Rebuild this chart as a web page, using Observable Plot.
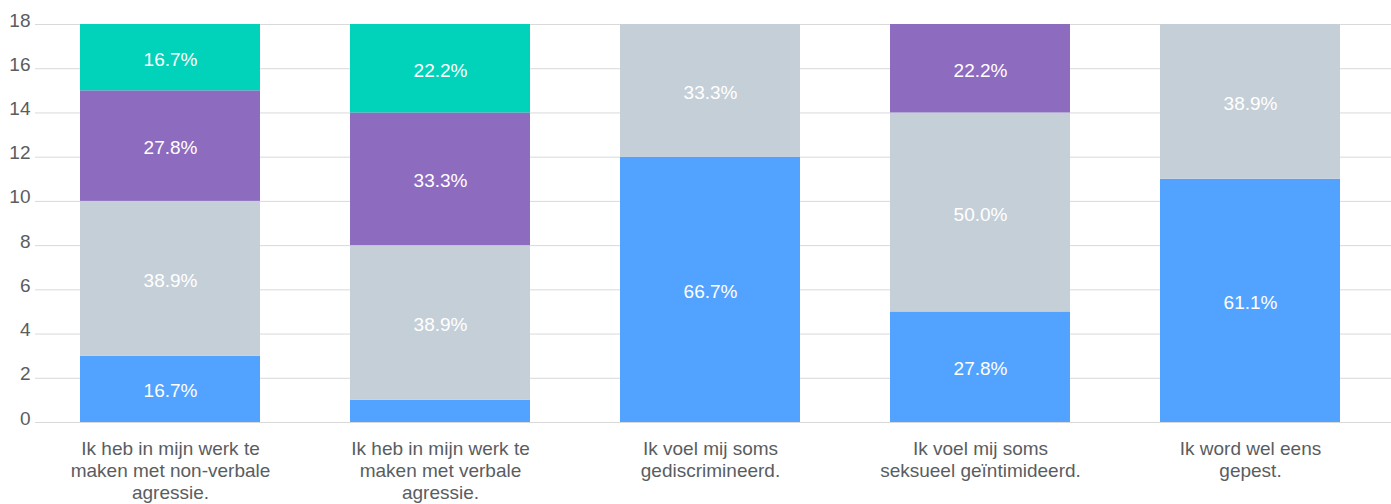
<!DOCTYPE html>
<html>
<head>
<meta charset="utf-8">
<script src="https://cdn.jsdelivr.net/npm/d3@7"></script>
<script src="https://cdn.jsdelivr.net/npm/@observablehq/plot@0.6"></script>
<style>
  body { margin: 0; background: #fff; }
  #chart svg { display: block; }
</style>
</head>
<body>
<div id="chart"></div>
<script>
const categories = [
  "Ik heb in mijn werk te maken met non-verbale agressie.",
  "Ik heb in mijn werk te maken met verbale agressie.",
  "Ik voel mij soms gediscrimineerd.",
  "Ik voel mij soms seksueel geïntimideerd.",
  "Ik word wel eens gepest."
];
const categoryLines = [
  ["Ik heb in mijn werk te", "maken met non-verbale", "agressie."],
  ["Ik heb in mijn werk te", "maken met verbale", "agressie."],
  ["Ik voel mij soms", "gediscrimineerd."],
  ["Ik voel mij soms", "seksueel geïntimideerd."],
  ["Ik word wel eens", "gepest."]
];
const seriesNames = ["Serie 1", "Serie 2", "Serie 3", "Serie 4"];
const seriesColors = ["#52a3ff", "#c5cfd8", "#8d6bbf", "#00d3b9"];
const serie1Values = [3, 1, 12, 5, 11];
const serie2Values = [7, 7, 6, 9, 7];
const serie3Values = [5, 6, 0, 4, 0];
const serie4Values = [3, 4, 0, 0, 0];
const yTicks = [0, 2, 4, 6, 8, 10, 12, 14, 16, 18];

const seriesValues = [serie1Values, serie2Values, serie3Values, serie4Values];
const data = [];
categories.forEach((c, i) => {
  const total = seriesValues.reduce((s, arr) => s + arr[i], 0);
  seriesValues.forEach((arr, k) => {
    if (arr[i] > 0) data.push({cat: c, series: seriesNames[k], value: arr[i], pct: arr[i] / total});
  });
});

const font = "'Liberation Sans', Arial, Helvetica, sans-serif";
const textColor = "#595d61";

const plot = Plot.plot({
  width: 1391,
  height: 504,
  marginLeft: 35,
  marginRight: 0,
  marginTop: 24,
  marginBottom: 82,
  style: {fontFamily: font, fontSize: "19px", color: textColor, background: "#fff"},
  x: {domain: categories, paddingInner: 1/3, paddingOuter: 1/6, insetRight: 6, label: null},
  y: {domain: [0, 18], label: null},
  color: {domain: seriesNames, range: seriesColors},
  marks: [
    Plot.ruleY(yTicks, {stroke: "#d9d9d9", strokeWidth: 1}),
    Plot.barY(data, Plot.stackY({x: "cat", y: "value", fill: "series", z: "series", order: seriesNames})),
    Plot.text(data, Plot.stackY({
      x: "cat", y: "value", z: "series", order: seriesNames,
      text: d => d.value > 1 ? (d.pct * 100).toFixed(1) + "%" : "",
      fill: "#fff", fontSize: 19, dy: 2
    })),
    Plot.axisY({ticks: yTicks, tickSize: 0, tickPadding: 5, fontSize: 19, dy: -4, fill: textColor, label: null}),
    Plot.axisX({
      tickSize: 0, tickPadding: 17, fontSize: 19, fill: textColor, label: null,
      lineHeight: 1.15,
      tickFormat: c => categoryLines[categories.indexOf(c)].join("\n")
    })
  ]
});
document.getElementById("chart").appendChild(plot);
</script>
</body>
</html>
